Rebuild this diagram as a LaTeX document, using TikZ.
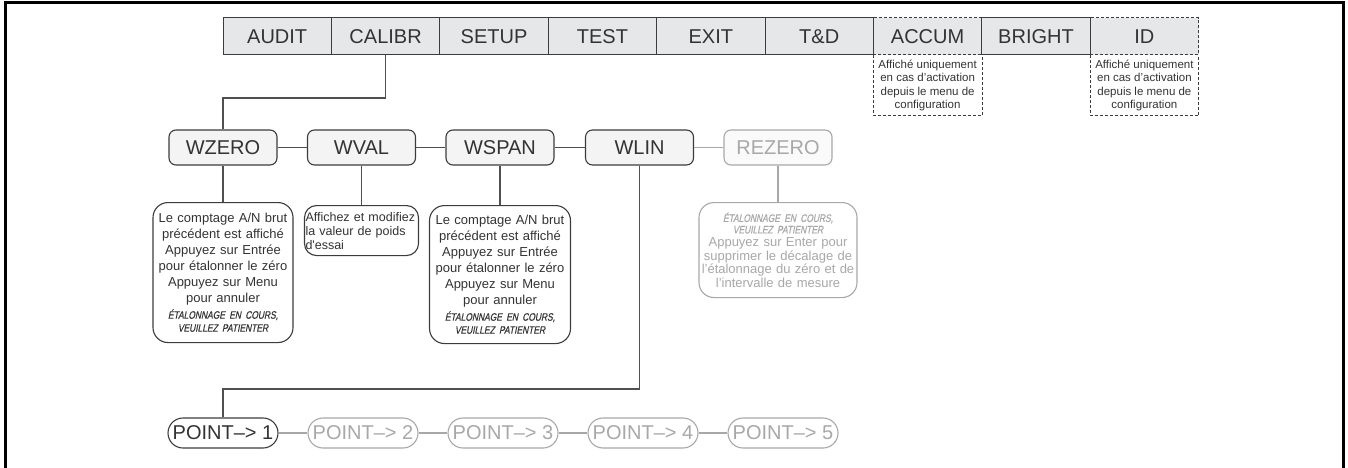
\documentclass[tikz,border=0pt]{standalone}
\usepackage{fontspec}
\setmainfont{Liberation Sans}
\newfontfamily\lcdfont[FakeStretch=0.78,FakeSlant=0.2,FakeBold=0.4]{Liberation Sans}
\definecolor{edge}{HTML}{3C3C3C}
\definecolor{cellfill}{HTML}{E6E7E8}
\definecolor{boxfill}{HTML}{F4F4F4}
\definecolor{txt}{HTML}{333333}
\definecolor{ina}{HTML}{A8A8A8}
\definecolor{inafill}{HTML}{FAFAFA}
\definecolor{connc}{HTML}{505050}
\newcommand\lcd[1]{{\lcdfont\fontsize{10.8}{12}\selectfont #1}}
\begin{document}
\begin{tikzpicture}[x=1pt,y=-1pt,
  cell/.style={draw=edge, fill=cellfill, line width=1pt, minimum width=108.4pt, minimum height=37pt, inner sep=0pt, text=txt, font=\fontsize{20}{24}\selectfont},
  optcell/.style={cell, dash pattern=on 3pt off 2pt},
  note/.style={minimum width=108.4pt, minimum height=60pt, inner sep=0pt, align=center, text=txt, font=\fontsize{11.5}{13.5}\selectfont},
  notedash/.style={draw=edge, line width=1pt, dash pattern=on 3pt off 2pt},
  menu/.style={draw=edge, fill=boxfill, line width=1.1pt, rounded corners=7pt, minimum width=108pt, minimum height=35pt, inner sep=0pt, text=txt, font=\fontsize{20}{24}\selectfont},
  desc/.style={draw=edge, fill=white, line width=1.1pt, rounded corners=15pt, inner sep=2pt, align=center, text=txt},
  inactive/.style={draw=ina, text=ina},
  ptbox/.style={draw=edge, line width=1.1pt, rounded corners=15pt, minimum width=110pt, minimum height=30pt, inner sep=0pt, text=txt, font=\fontsize{20}{22}\selectfont},
  conn/.style={draw=connc, line width=1.4pt},
  inaconn/.style={draw=ina, line width=1.4pt}]
\useasboundingbox (0,0) rectangle (1348,468);
\draw[line width=3pt, black] (5,468) -- (5,2.5) -- (1343,2.5) -- (1343,468);

% top menu bar
\node[optcell] (accum) at (927.6,36.5) {ACCUM};
\node[optcell] (id) at (1144.4,36.5) {ID};
\node[cell] (audit) at (277.2,36.5) {AUDIT};
\node[cell] (calibr) at (385.6,36.5) {CALIBR};
\node[cell] (setup) at (494.0,36.5) {SETUP};
\node[cell] (test) at (602.4,36.5) {TEST};
\node[cell] (exit) at (710.8,36.5) {EXIT};
\node[cell] (td) at (819.2,36.5) {T\&D};
\node[cell] (bright) at (1036.0,36.5) {BRIGHT};

\node[note, anchor=north] (naccum) at (accum.south) {Affiché uniquement\\en cas d’activation\\depuis le menu de\\configuration};
\node[note, anchor=north] (nid) at (id.south) {Affiché uniquement\\en cas d’activation\\depuis le menu de\\configuration};
\draw[notedash] (naccum.north west) -- (naccum.south west) -- (naccum.south east) -- (naccum.north east);
\draw[notedash] (nid.north west) -- (nid.south west) -- (nid.south east) -- (nid.north east);

% second row
\node[menu] (wzero) at (223,147.5) {WZERO};
\node[menu] (wval) at (361.5,147.5) {WVAL};
\node[menu] (wspan) at (500,147.5) {WSPAN};
\node[menu] (wlin) at (639.5,147.5) {WLIN};
\node[menu, inactive, fill=inafill] (rezero) at (778,147.5) {REZERO};

\coordinate (cj) at (0,98);
\draw[conn] (calibr.south) -- (calibr.south |- cj) -| (wzero.north);
\draw[conn] (wzero.east) -- (wval.west);
\draw[conn] (wval.east) -- (wspan.west);
\draw[conn] (wspan.east) -- (wlin.west);
\draw[inaconn] (wlin.east) -- (rezero.west);

% descriptions
\coordinate (dt) at (0,202);
\coordinate (dt2) at (0,205);
\node[desc, anchor=north, minimum width=140pt, minimum height=140pt, text width=136pt, font=\fontsize{13}{16}\selectfont] (dzero) at (wzero.south |- dt)
 {Le comptage A/N brut\\précédent est affiché\\Appuyez sur Entrée\\pour étalonner le zéro\\Appuyez sur Menu\\pour annuler\\[0pt]\lcd{ÉTALONNAGE EN COURS,}\\[-3pt]\lcd{VEUILLEZ PATIENTER}};
\node[desc, anchor=north, align=left, rounded corners=12pt, inner sep=1pt, minimum width=114pt, minimum height=50pt, text width=112pt, font=\fontsize{12.5}{14}\selectfont] (dval) at (wval.south |- dt2)
 {Affichez et modifiez\\la valeur de poids\\d\textquotesingle essai};
\node[desc, anchor=north, minimum width=141pt, minimum height=138pt, text width=137pt, font=\fontsize{13}{16}\selectfont] (dspan) at (wspan.south |- dt2)
 {Le comptage A/N brut\\précédent est affiché\\Appuyez sur Entrée\\pour étalonner le zéro\\Appuyez sur Menu\\pour annuler\\[0pt]\lcd{ÉTALONNAGE EN COURS,}\\[-3pt]\lcd{VEUILLEZ PATIENTER}};
\node[desc, inactive, anchor=north, minimum width=158pt, minimum height=95pt, text width=154pt, font=\fontsize{13}{13.5}\selectfont] (drez) at (rezero.south |- dt)
 {\lcd{ÉTALONNAGE EN COURS,}\\[-2pt]\lcd{VEUILLEZ PATIENTER}\\Appuyez sur Enter pour\\supprimer le décalage de\\l’étalonnage du zéro et de\\l’intervalle de mesure};

\draw[conn] (wzero.south) -- (dzero.north);
\draw[conn] (wval.south) -- (dval.north);
\draw[conn] (wspan.south) -- (dspan.north);
\draw[inaconn] (rezero.south) -- (drez.north);

% points
\node[ptbox] (p1) at (223,433) {POINT–> 1};
\node[ptbox, inactive] (p2) at (363,433) {POINT–> 2};
\node[ptbox, inactive] (p3) at (503,433) {POINT–> 3};
\node[ptbox, inactive] (p4) at (643,433) {POINT–> 4};
\node[ptbox, inactive] (p5) at (783,433) {POINT–> 5};
\coordinate (pj) at (0,389);
\draw[conn] (wlin.south) -- (wlin.south |- pj) -| (p1.north);
\draw[inaconn] (p1.east) -- (p2.west);
\draw[inaconn] (p2.east) -- (p3.west);
\draw[inaconn] (p3.east) -- (p4.west);
\draw[inaconn] (p4.east) -- (p5.west);
\end{tikzpicture}
\end{document}
